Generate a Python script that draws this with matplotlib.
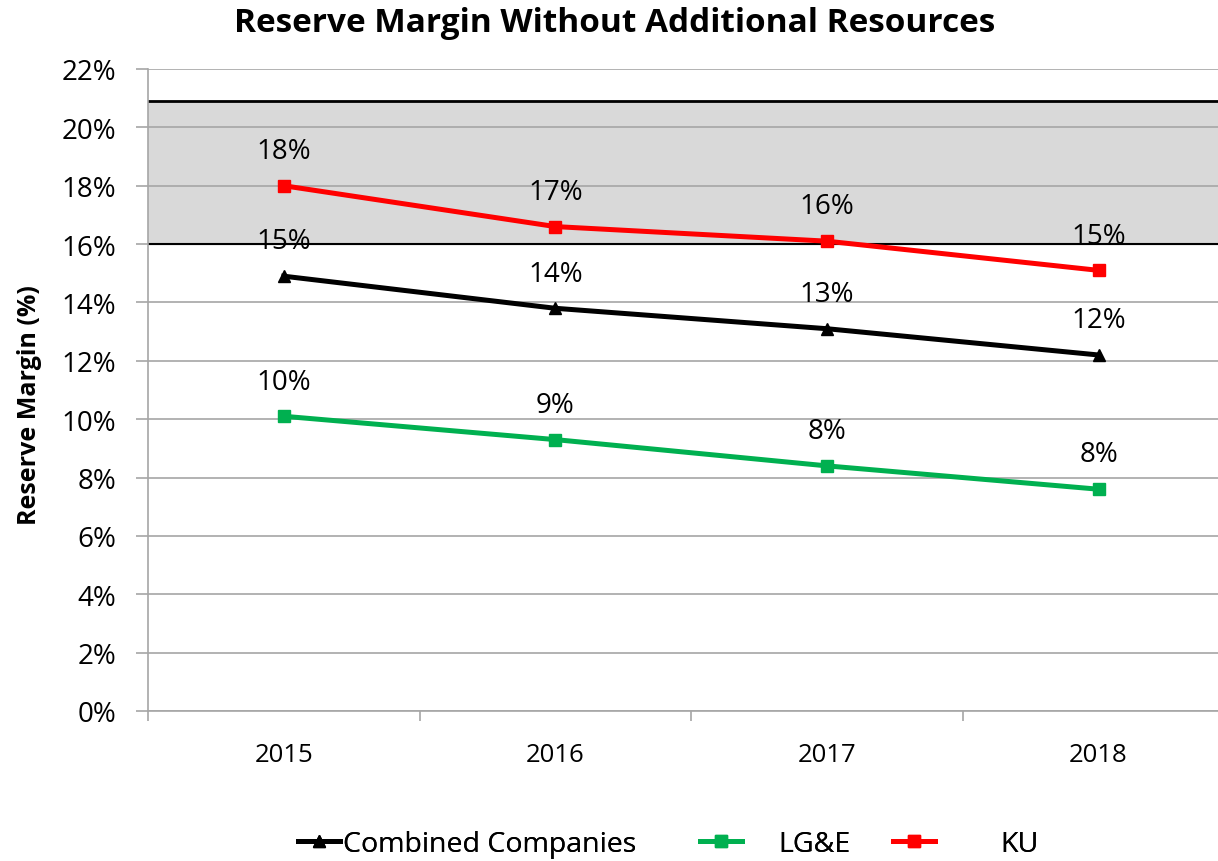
import matplotlib
matplotlib.use("Agg")
import matplotlib.pyplot as plt
from matplotlib.ticker import FuncFormatter, FixedLocator

years = ["2015", "2016", "2017", "2018"]
combined = [14.9, 13.8, 13.1, 12.2]
lge = [10.1, 9.3, 8.4, 7.6]
ku = [18.0, 16.6, 16.1, 15.1]
combined_labels = ["15%", "14%", "13%", "12%"]
lge_labels = ["10%", "9%", "8%", "8%"]
ku_labels = ["18%", "17%", "16%", "15%"]
band_low, band_high = 16.0, 20.9

plt.rcParams['font.family'] = ['Open Sans', 'DejaVu Sans']

W, H = 1218, 862
fig = plt.figure(figsize=(W/100, H/100), dpi=100)
ax = fig.add_axes([148/W, 1-712/H, 1-148/W, (712-70)/H])

x = list(range(len(years)))
ax.set_xlim(-0.5, 3.44)
ax.set_ylim(0, 22)

ax.axhspan(band_low, band_high, color='#d9d9d9', zorder=0)
ax.axhline(band_high, color='black', lw=2.0, zorder=1)
ax.axhline(band_low, color='black', lw=1.5, zorder=1)

ax.set_yticks(range(0, 23, 2))
ax.yaxis.set_major_formatter(FuncFormatter(lambda v, p: f"{int(v)}%"))
ax.grid(axis='y', color='#a6a6a6', lw=1.2, zorder=0.5)
ax.set_axisbelow(True)

l1, = ax.plot(x, combined, color='black', lw=3.6, marker='^', ms=9, label='Combined Companies', zorder=3)
l2, = ax.plot(x, lge, color='#00b050', lw=3.6, marker='s', ms=8.5, label='LG&E', zorder=3)
l3, = ax.plot(x, ku, color='#ff0000', lw=3.6, marker='s', ms=8.5, label='KU', zorder=3)

for vals, labs in [(combined, combined_labels), (lge, lge_labels), (ku, ku_labels)]:
    for xi, v, l in zip(x, vals, labs):
        ax.annotate(l, (xi, v), xytext=(0, 25), textcoords='offset points',
                    ha='center', va='center', fontsize=20, zorder=4)

ax.set_xticks(x)
ax.set_xticklabels(years, fontsize=18.5)
ax.xaxis.set_minor_locator(FixedLocator([-0.5, 0.5, 1.5, 2.5]))
ax.tick_params(axis='x', which='major', length=0, pad=22)
ax.tick_params(axis='x', which='minor', length=7, color='#a6a6a6', width=1.2)
ax.tick_params(axis='y', length=9, color='#a6a6a6', width=1.2, labelsize=20, pad=14)

for s in ['top', 'right']:
    ax.spines[s].set_visible(False)
ax.spines['left'].set_color('#a6a6a6')
ax.spines['left'].set_linewidth(1.2)
ax.spines['bottom'].set_color('#a6a6a6')
ax.spines['bottom'].set_linewidth(1.2)

ax.set_ylabel('Reserve Margin (%)', fontsize=18, fontweight='bold')
ax.yaxis.set_label_coords((42-148)/1070, (712-405)/642)

fig.suptitle('Reserve Margin Without Additional Resources', x=615/W, y=1-23/H,
             fontsize=24, fontweight='bold', va='center')

fs_leg = 20.5
em = fs_leg*100/72
for line, lbl, hx, tx in [(l1, 'Combined Companies', 298, 343),
                           (l2, 'LG&E', 700, 778),
                           (l3, 'KU', 893, 1000)]:
    hl = 42/em
    pad = (tx - hx - 42)/em
    leg = fig.legend([line], [lbl], loc='center left', bbox_to_anchor=(hx/W, 1-845/H),
                     frameon=False, fontsize=fs_leg, handlelength=hl, handletextpad=pad,
                     borderpad=0, borderaxespad=0)
    fig.add_artist(leg)

fig.savefig('out.png', dpi=100)
